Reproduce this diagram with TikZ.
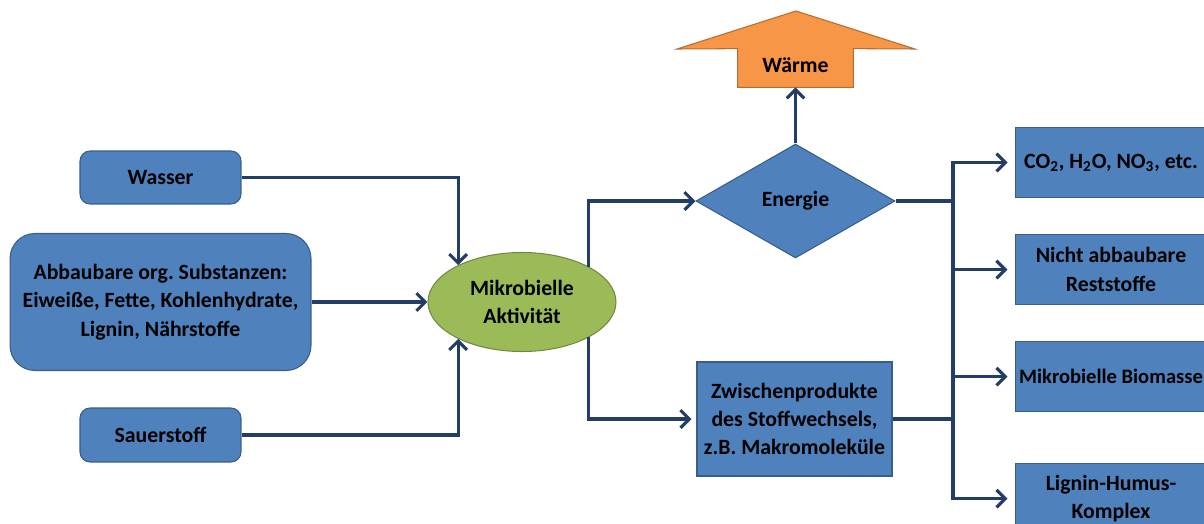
\documentclass[tikz,border=0pt]{standalone}
\usepackage{fontspec}
\setmainfont{Carlito}
\usetikzlibrary{positioning,arrows.meta,shapes.geometric,backgrounds}
\definecolor{boxblue}{HTML}{4F81BD}
\definecolor{boxline}{HTML}{385D8A}
\definecolor{mgreen}{HTML}{9BBB59}
\definecolor{greenline}{HTML}{71893F}
\definecolor{worange}{HTML}{F79646}
\definecolor{orangeline}{HTML}{B66D31}
\definecolor{linecol}{RGB}{35,62,102}
\frenchspacing
\begin{document}
\begin{tikzpicture}[x=0.02cm,y=-0.02cm,>={Straight Barb[length=5pt,width=10pt]},
every node/.style={font=\fontsize{12.4}{16.1}\selectfont\bfseries},
blk/.style={draw=boxline,fill=boxblue,line width=0.6pt,align=center,inner sep=0pt},
rblk/.style={blk,rounded corners=0.2cm},
rbox/.style={blk,minimum width=3.84cm,minimum height=1.4cm},
flow/.style={draw=linecol,line width=1.8pt},
node distance=0.72cm]
\clip (0,0) rectangle (1204,524);
% inputs
\node[rblk,minimum width=3.22cm,minimum height=1.06cm] (wasser) at (160.5,177.5) {Wasser};
\node[blk,rounded corners=0.5cm,minimum width=6.02cm,minimum height=2.74cm] (abbau) at (160.5,302) {Abbaubare org. Substanzen:\\Eiweiße, Fette, Kohlenhydrate,\\Lignin, Nährstoffe};
\node[rblk,minimum width=3.22cm,minimum height=1.08cm] (sauer) at (160.5,435) {Sauerstoff};
\node[ellipse,draw=greenline,fill=mgreen,line width=0.6pt,minimum width=3.76cm,minimum height=1.98cm,inner sep=0pt,align=center] (mikro) at (522,302) {Mikrobielle\\Aktivität};
% middle
\node[diamond,draw=boxline,fill=boxblue,line width=0.6pt,minimum width=3.98cm,minimum height=2.28cm,inner sep=0pt] (energie) at (795.5,201) {Energie};
\node[minimum width=2.3cm,minimum height=0.76cm,inner sep=0pt] (waerme) at (795.5,68) {\raisebox{3pt}{Wärme}};
\begin{scope}[on background layer]
\filldraw[draw=orangeline,fill=worange,line width=0.6pt] (waerme.south west) -- (waerme.north west) -- (677,49) -- (796,11) -- (915,49) -- (waerme.north east) -- (waerme.south east) -- cycle;
\end{scope}
\node[blk,minimum width=3.9cm,minimum height=2.28cm] (zwischen) at (794.5,419) {Zwischenprodukte\\des Stoffwechsels,\\z.B. Makromoleküle};
% outputs
\node[rbox] (co2) at (1111,162.5) {CO\textsubscript{2}, H\textsubscript{2}O, NO\textsubscript{3}, etc.};
\node[rbox,below=of co2] (rest) {Nicht abbaubare\\Reststoffe};
\node[rbox,below=of rest,font=\fontsize{11.7}{16.1}\selectfont\bfseries] (biomasse) {Mikrobielle Biomasse};
\node[rbox,below=1.02cm of biomasse] (humus) {Lignin-Humus-\\Komplex};
\coordinate (busE) at (953,201);
\coordinate (busZ) at (953,419);
\draw[flow,->] (wasser.east) -| (mikro.150);
\draw[flow,->] (abbau.east) -- (mikro.west);
\draw[flow,->] (sauer.east) -| (mikro.210);
\draw[flow,->] (mikro.28) |- (energie.west);
\draw[flow,->,shorten >=0.1cm] (mikro.-28) |- (zwischen.west);
\draw[flow,->] (energie.north) -- (waerme.south);
\draw[flow] (energie.east) -- (busE);
\draw[flow] (zwischen.east) -- (busZ);
\foreach \t in {co2,rest,biomasse,humus}
  \draw[flow,->,shorten >=0.14cm] (busE) |- (\t.west);
\end{tikzpicture}
\end{document}
